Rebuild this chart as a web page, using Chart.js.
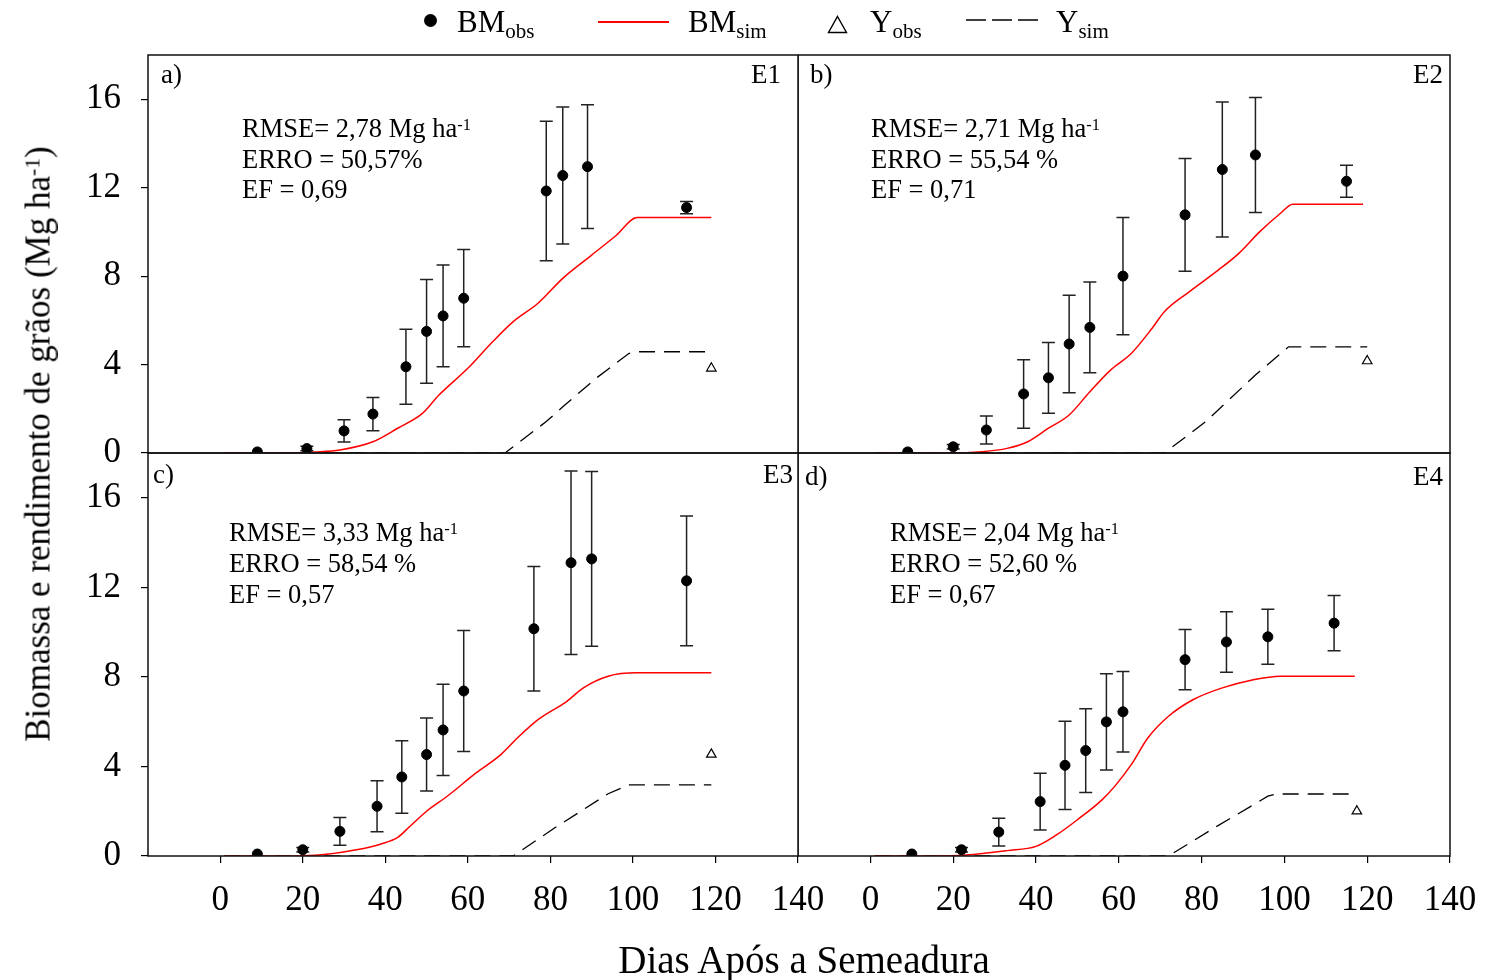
<!DOCTYPE html>
<html>
<head>
<meta charset="utf-8">
<script src="https://cdn.jsdelivr.net/npm/chart.js@4.4.0/dist/chart.umd.min.js"></script>
<style>
body { margin: 0; background: #fff; }
#fig { position: relative; width: 1488px; height: 980px; overflow: hidden; font-family: "Liberation Serif", "Times New Roman", serif; color: #000; }
#fig canvas { position: absolute; }
.txt { position: absolute; white-space: nowrap; line-height: 1; }
.note { position: absolute; white-space: nowrap; font-size: 26.5px; line-height: 30.5px; }
.note sup { font-size: 0.62em; position: relative; top: -0.45em; vertical-align: baseline; line-height: 0; }
.lab { font-size: 27px; }
.leg { font-size: 31px; }
.leg sub { font-size: 21px; position: relative; top: 6px; vertical-align: baseline; line-height: 0; }
</style>
</head>
<body>
<div id="fig">
  <canvas id="pa" width="846" height="498" style="left:0;top:0"></canvas>
  <canvas id="pb" width="700" height="498" style="left:798px;top:0"></canvas>
  <canvas id="pc" width="846" height="572" style="left:0;top:408px"></canvas>
  <canvas id="pd" width="700" height="572" style="left:798px;top:408px"></canvas>

  <!-- legend -->
  <div style="position:absolute;left:423.5px;top:13.5px;width:13px;height:13px;border-radius:50%;background:#000"></div>
  <div class="txt leg" style="left:457px;top:6px">BM<sub>obs</sub></div>
  <div style="position:absolute;left:598px;top:21px;width:71px;height:1.5px;background:#ff0000"></div>
  <div class="txt leg" style="left:688px;top:6px">BM<sub>sim</sub></div>
  <svg style="position:absolute;left:827px;top:15px" width="21" height="19"><polygon points="10.5,1.5 19.5,17.5 1.5,17.5" fill="none" stroke="#000" stroke-width="1.4"/></svg>
  <div class="txt leg" style="left:870px;top:6px">Y<sub>obs</sub></div>
  <svg style="position:absolute;left:966px;top:15px" width="74" height="10"><line x1="0" y1="5" x2="72" y2="5" stroke="#000" stroke-width="1.4" stroke-dasharray="20 6"/></svg>
  <div class="txt leg" style="left:1056px;top:6px">Y<sub>sim</sub></div>

  <!-- panel tags -->
  <div class="txt lab" style="left:161px;top:61px">a)</div>
  <div class="txt lab" style="right:707px;top:61px">E1</div>
  <div class="txt lab" style="left:810px;top:61px">b)</div>
  <div class="txt lab" style="right:45px;top:61px">E2</div>
  <div class="txt lab" style="left:153px;top:461px">c)</div>
  <div class="txt lab" style="right:695px;top:461px">E3</div>
  <div class="txt lab" style="left:805px;top:463px">d)</div>
  <div class="txt lab" style="right:45px;top:463px">E4</div>

  <!-- statistics -->
  <div class="note" style="left:242px;top:113px">RMSE= 2,78 Mg ha<sup>-1</sup><br>ERRO = 50,57%<br>EF = 0,69</div>
  <div class="note" style="left:871px;top:113px">RMSE= 2,71 Mg ha<sup>-1</sup><br>ERRO = 55,54 %<br>EF = 0,71</div>
  <div class="note" style="left:229px;top:517px;line-height:31px">RMSE= 3,33 Mg ha<sup>-1</sup><br>ERRO = 58,54 %<br>EF = 0,57</div>
  <div class="note" style="left:890px;top:517px;line-height:31px">RMSE= 2,04 Mg ha<sup>-1</sup><br>ERRO = 52,60 %<br>EF = 0,67</div>

  <!-- axis titles -->
  <div class="txt" style="left:804px;top:959px;font-size:39px;transform:translate(-50%,-50%)">Dias Após a Semeadura</div>
  <div class="txt" style="left:38px;top:444px;font-size:35px;transform:translate(-50%,-50%) rotate(-90deg)">Biomassa e rendimento de grãos (Mg ha<sup style="font-size:0.62em;position:relative;top:-0.45em;vertical-align:baseline;line-height:0">-1</sup>)</div>
</div>

<script>
// axis ticks
const xTicks = [0, 20, 40, 60, 80, 100, 120, 140];
const yTicks = [0, 4, 8, 12, 16];

// E1 (a)
const obsDaysE1 = [9, 21, 30, 37, 45, 50, 54, 59, 79, 83, 89, 113];
const bmObsE1 = [0.05, 0.2, 1.0, 1.76, 3.9, 5.5, 6.2, 7.0, 11.85, 12.55, 12.95, 11.1];
const bmErrE1 = [0, 0.1, 0.5, 0.75, 1.7, 2.35, 2.3, 2.2, 3.15, 3.1, 2.8, 0.28];
const yObsDayE1 = 119, yObsE1 = 3.83;
const simDaysE1 = [1, 15, 23, 29, 37, 43, 49, 53, 60, 66, 71, 77, 83, 90, 96, 101, 119];
const bmSimE1 = [0, 0, 0.05, 0.14, 0.51, 1.12, 1.79, 2.62, 3.83, 5.03, 5.94, 6.77, 7.9, 8.95, 9.85, 10.65, 10.65];
const ySimDaysE1 = [1, 69, 79, 83, 91, 99, 101, 119];
const ySimE1 = [0, 0, 1.42, 2.09, 3.37, 4.5, 4.58, 4.58];

// E2 (b)
const obsDaysE2 = [9, 20, 28, 37, 43, 48, 53, 61, 76, 85, 93, 115];
const bmObsE2 = [0.05, 0.28, 1.04, 2.67, 3.4, 4.93, 5.68, 8.0, 10.77, 12.82, 13.48, 12.29];
const bmErrE2 = [0, 0.1, 0.63, 1.55, 1.6, 2.2, 2.05, 2.65, 2.55, 3.05, 2.6, 0.72];
const yObsDayE2 = 120, yObsE2 = 4.16;
const simDaysE2 = [1, 19, 27, 33, 38, 43, 48, 53, 58, 63, 68, 71, 77, 84, 89, 94, 99, 102, 119];
const bmSimE2 = [0, 0, 0.06, 0.21, 0.51, 1.12, 1.72, 2.77, 3.75, 4.5, 5.63, 6.39, 7.29, 8.27, 9.03, 10.0, 10.83, 11.25, 11.25];
const ySimDaysE2 = [1, 71, 81, 93, 101, 120];
const ySimE2 = [0, 0, 1.42, 3.53, 4.8, 4.8];

// E3 (c)
const obsDaysE3 = [9, 20, 29, 38, 44, 50, 54, 59, 76, 85, 90, 113];
const bmObsE3 = [0.09, 0.28, 1.1, 2.22, 3.53, 4.53, 5.63, 7.37, 10.15, 13.1, 13.27, 12.29];
const bmErrE3 = [0, 0.1, 0.62, 1.14, 1.62, 1.63, 2.04, 2.7, 2.78, 4.1, 3.9, 2.9];
const yObsDayE3 = 119, yObsE3 = 4.54;
const simDaysE3 = [1, 15, 23, 33, 39, 43, 46, 50, 55, 62, 68, 72, 77, 84, 88, 94, 101, 119];
const bmSimE3 = [0, 0, 0.03, 0.28, 0.54, 0.83, 1.33, 2.0, 2.67, 3.71, 4.53, 5.27, 6.09, 6.91, 7.51, 8.03, 8.18, 8.18];
const ySimDaysE3 = [1, 71, 81, 94, 99, 119];
const ySimE3 = [0, 0, 1.25, 2.78, 3.18, 3.18];

// E4 (d)
const obsDaysE4 = [10, 22, 31, 41, 47, 52, 57, 61, 76, 86, 96, 112];
const bmObsE4 = [0.09, 0.28, 1.07, 2.43, 4.05, 4.71, 5.99, 6.44, 8.77, 9.56, 9.79, 10.4];
const bmErrE4 = [0, 0.1, 0.62, 1.27, 1.97, 1.87, 2.15, 1.8, 1.35, 1.35, 1.23, 1.23];
const yObsDayE4 = 117.5, yObsE4 = 2.0;
const simDaysE4 = [1, 15, 23, 33, 40, 45, 50, 56, 59, 63, 67, 72, 78, 85, 92, 99, 117];
const bmSimE4 = [0, 0, 0.04, 0.24, 0.43, 0.95, 1.62, 2.52, 3.11, 4.08, 5.27, 6.24, 6.99, 7.51, 7.85, 8.03, 8.03];
const ySimDaysE4 = [1, 72, 83, 96, 98, 117];
const ySimE4 = [0, 0, 1.25, 2.67, 2.77, 2.77];

function pts(xs, ys) {
    return xs.map((x, i) => ({ x: x, y: ys[i] }));
}

// frame around each panel
const boxPlugin = {
    id: 'box',
    afterDraw(chart) {
        const a = chart.chartArea, ctx = chart.ctx;
        ctx.save();
        ctx.strokeStyle = '#111';
        ctx.lineWidth = 1.5;
        ctx.strokeRect(a.left, a.top, a.right - a.left, a.bottom - a.top);
        ctx.restore();
    }
};

// vertical error bars, drawn under the points
const errPlugin = {
    id: 'errbars',
    beforeDatasetDraw(chart, args) {
        const ds = chart.data.datasets[args.index];
        if (!ds.errors) return;
        const ctx = chart.ctx, sx = chart.scales.x, sy = chart.scales.y;
        ctx.save();
        ctx.strokeStyle = '#222';
        ctx.lineWidth = 1.5;
        ds.data.forEach((p, i) => {
            const e = ds.errors[i];
            if (!e) return;
            const px = sx.getPixelForValue(p.x);
            const top = sy.getPixelForValue(p.y + e);
            const bot = sy.getPixelForValue(p.y - e);
            ctx.beginPath();
            ctx.moveTo(px, top); ctx.lineTo(px, bot);
            ctx.moveTo(px - 6.5, top); ctx.lineTo(px + 6.5, top);
            ctx.moveTo(px - 6.5, bot); ctx.lineTo(px + 6.5, bot);
            ctx.stroke();
        });
        ctx.restore();
    }
};

const tickFont = { family: 'Liberation Serif', size: 35 };

function panel(id, d, opt) {
    new Chart(document.getElementById(id), {
        type: 'scatter',
        data: {
            datasets: [
                { data: pts(d.obsDays, d.bmObs), errors: d.bmErr, pointRadius: 5, pointHoverRadius: 5,
                  backgroundColor: '#000', borderColor: '#000' },
                { data: [{ x: d.yObsDay, y: d.yObs }], pointStyle: 'triangle', pointRadius: 5.5,
                  backgroundColor: '#fff', borderColor: '#000', borderWidth: 1.2 },
                { data: pts(d.simDays, d.bmSim), showLine: true, borderColor: '#ff0000', borderWidth: 1.5,
                  pointRadius: 0, cubicInterpolationMode: 'monotone' },
                { data: pts(d.ySimDays, d.ySim), showLine: true, borderColor: '#000', borderWidth: 1.3,
                  borderDash: [16, 9], pointRadius: 0 }
            ]
        },
        options: {
            responsive: false,
            animation: false,
            layout: { padding: opt.pad, autoPadding: false },
            plugins: { legend: { display: false }, tooltip: { enabled: false } },
            scales: {
                x: {
                    type: 'linear', min: -17.5, max: 140, display: opt.showX,
                    afterBuildTicks: s => { s.ticks = xTicks.map(v => ({ value: v })); },
                    afterFit: s => { if (opt.showX) s.height = 124; },
                    grid: { drawOnChartArea: false, drawTicks: true, tickLength: 7, color: '#000', lineWidth: 1.2 },
                    border: { display: false },
                    ticks: { color: '#000', padding: 17, font: tickFont, maxRotation: 0, autoSkip: false }
                },
                y: {
                    type: 'linear', min: 0, max: 18, display: opt.showY,
                    afterBuildTicks: s => { s.ticks = yTicks.map(v => ({ value: v })); },
                    afterFit: s => { s.width = opt.showY ? 148 : 0; },
                    grid: { drawOnChartArea: false, drawTicks: true, tickLength: 7, color: '#000', lineWidth: 1.2 },
                    border: { display: false },
                    ticks: { color: '#000', padding: 20, font: tickFont, autoSkip: false }
                }
            }
        },
        plugins: [errPlugin, boxPlugin]
    });
}

panel('pa', { obsDays: obsDaysE1, bmObs: bmObsE1, bmErr: bmErrE1, yObsDay: yObsDayE1, yObs: yObsE1,
              simDays: simDaysE1, bmSim: bmSimE1, ySimDays: ySimDaysE1, ySim: ySimE1 },
      { showX: false, showY: true, pad: { top: 55, left: 0, right: 48, bottom: 45 } });
panel('pb', { obsDays: obsDaysE2, bmObs: bmObsE2, bmErr: bmErrE2, yObsDay: yObsDayE2, yObs: yObsE2,
              simDays: simDaysE2, bmSim: bmSimE2, ySimDays: ySimDaysE2, ySim: ySimE2 },
      { showX: false, showY: false, pad: { top: 55, left: 0, right: 48, bottom: 45 } });
panel('pc', { obsDays: obsDaysE3, bmObs: bmObsE3, bmErr: bmErrE3, yObsDay: yObsDayE3, yObs: yObsE3,
              simDays: simDaysE3, bmSim: bmSimE3, ySimDays: ySimDaysE3, ySim: ySimE3 },
      { showX: true, showY: true, pad: { top: 45, left: 0, right: 48, bottom: 0 } });
panel('pd', { obsDays: obsDaysE4, bmObs: bmObsE4, bmErr: bmErrE4, yObsDay: yObsDayE4, yObs: yObsE4,
              simDays: simDaysE4, bmSim: bmSimE4, ySimDays: ySimDaysE4, ySim: ySimE4 },
      { showX: true, showY: false, pad: { top: 45, left: 0, right: 48, bottom: 0 } });
</script>
</body>
</html>
